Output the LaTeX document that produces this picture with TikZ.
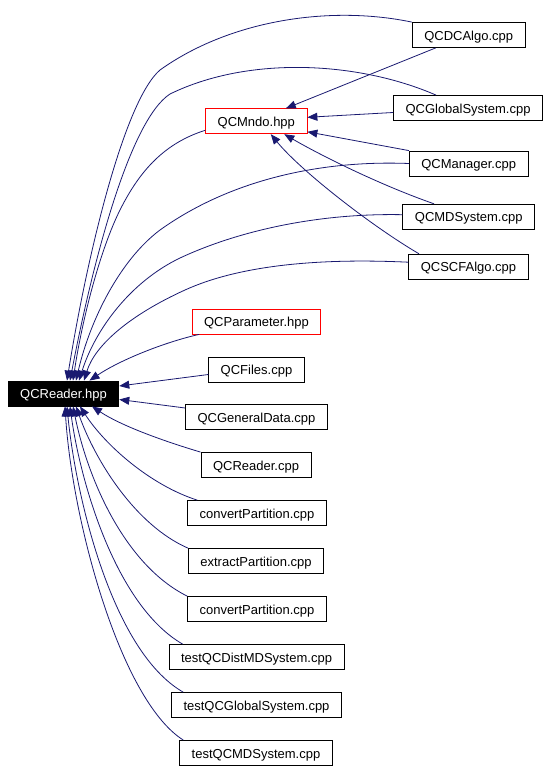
\documentclass[tikz,border=0pt]{standalone}
\usepackage{fontspec}
\setmainfont{Liberation Sans}
\usetikzlibrary{arrows.meta}
\definecolor{depblue}{RGB}{25,25,112}
\tikzset{
	filebox/.style={draw=black, line width=0.8pt, fill=white, minimum height=25pt, inner xsep=12pt, inner ysep=0pt, text height=12pt, text depth=2pt, font=\fontsize{13}{15}\selectfont},
	hdrbox/.style={filebox, draw=red},
	dep/.style={draw=depblue, line width=0.8pt, -{Triangle[length=10pt,width=8pt]}}
}

\begin{document}
\begin{tikzpicture}[x=1pt, y=-1pt]
			%%%%% START %%%%%
			\useasboundingbox (0, 0) rectangle (549, 771);
			
			\node[filebox, fill=black, text=white] (reader) at (63.5, 393.5) {QCReader.hpp};
			\node[hdrbox] (mndo) at (256.3, 121.3) {QCMndo.hpp};
			
			\node[filebox] (dcalgo) at (468.7, 35) {QCDCAlgo.cpp};
			\node[filebox] (globsys) at (468, 108) {QCGlobalSystem.cpp};
			\node[filebox] (manager) at (468.7, 163.5) {QCManager.cpp};
			\node[filebox] (mdsys) at (468.7, 216.7) {QCMDSystem.cpp};
			\node[filebox] (scfalgo) at (468.5, 266.7) {QCSCFAlgo.cpp};
			
			\node[hdrbox] (param) at (256.5, 321.5) {QCParameter.hpp};
			\node[filebox] (files) at (256.5, 369.5) {QCFiles.cpp};
			\node[filebox] (gendata) at (256.5, 417) {QCGeneralData.cpp};
			\node[filebox] (readercpp) at (256, 465) {QCReader.cpp};
			\node[filebox] (convA) at (257, 513) {convertPartition.cpp};
			\node[filebox] (extract) at (256, 561) {extractPartition.cpp};
			\node[filebox] (convB) at (257, 609) {convertPartition.cpp};
			\node[filebox] (testdist) at (256.5, 657) {testQCDistMDSystem.cpp};
			\node[filebox] (testglob) at (256.5, 705) {testQCGlobalSystem.cpp};
			\node[filebox] (testmd) at (256, 753) {testQCMDSystem.cpp};
			
			% into QCMndo.hpp
			\draw[dep] ([xshift=-33pt]dcalgo.south) -- ([xshift=29.5pt]mndo.north);
			\draw[dep] ([yshift=-4.5pt]globsys.west) -- ([yshift=4pt]mndo.east);
			\draw[dep] (manager.north west) -- ([yshift=-10.5pt]mndo.east);
			\draw[dep] ([xshift=-34.7pt]mdsys.north) .. controls (380, 185) and (320, 155) .. ([xshift=28pt]mndo.south);
			\draw[dep] ([xshift=-49.5pt]scfalgo.north) .. controls (370, 225) and (300, 170) .. ([xshift=14.5pt]mndo.south);
			
			% into QCReader.hpp, from above
			\draw[dep] (dcalgo.north west) .. controls (330, 5) and (230, 20) .. (160, 70) .. controls (125, 100) and (88, 250) .. ([xshift=3.5pt]reader.north);
			\draw[dep] ([xshift=-32pt]globsys.north) .. controls (360, 62) and (250, 55) .. (170, 94) .. controls (130, 120) and (93, 260) .. ([xshift=6.5pt]reader.north);
			\draw[dep] ([yshift=-9pt]mndo.west) .. controls (165, 143) and (140, 170) .. (120, 210) .. controls (100, 250) and (82, 320) .. ([xshift=9.5pt]reader.north);
			\draw[dep] (manager.west) .. controls (320, 160) and (230, 180) .. (160, 230) .. controls (120, 260) and (90, 320) .. ([xshift=12.5pt]reader.north);
			\draw[dep] ([yshift=2pt]mdsys.west) .. controls (320, 213) and (240, 230) .. (180, 258) .. controls (130, 282) and (95, 330) .. ([xshift=15.5pt]reader.north);
			\draw[dep] ([yshift=4.5pt]scfalgo.west) .. controls (320, 258) and (240, 265) .. (185, 290) .. controls (130, 315) and (95, 345) .. ([xshift=20.5pt]reader.north);
			\draw[dep] ([xshift=7.5pt]param.south west) .. controls (165, 342) and (120, 360) .. ([xshift=26pt]reader.north);
			
			% from the right
			\draw[dep] ([yshift=-5pt]files.west) -- ([yshift=7.5pt]reader.east);
			\draw[dep] ([yshift=9pt]gendata.west) -- ([yshift=-6pt]reader.east);
			
			% from below
			\draw[dep] (readercpp.north west) .. controls (160, 440) and (120, 425) .. ([xshift=28.5pt]reader.south);
			\draw[dep] ([xshift=10pt]convA.north west) .. controls (150, 485) and (105, 445) .. ([xshift=16.5pt]reader.south);
			\draw[dep] (extract.north west) .. controls (135, 525) and (95, 460) .. ([xshift=12.5pt]reader.south);
			\draw[dep] (convB.north west) .. controls (125, 565) and (88, 480) .. ([xshift=9.5pt]reader.south);
			\draw[dep] ([xshift=14pt]testdist.north west) .. controls (115, 605) and (80, 480) .. ([xshift=6.5pt]reader.south);
			\draw[dep] ([xshift=12pt]testglob.north west) .. controls (110, 650) and (75, 490) .. ([xshift=3.5pt]reader.south);
			\draw[dep] ([xshift=4pt]testmd.north west) .. controls (120, 700) and (72, 520) .. ([xshift=1.5pt]reader.south);
			
			%%%%% END %%%%%
\end{tikzpicture}
\end{document}
